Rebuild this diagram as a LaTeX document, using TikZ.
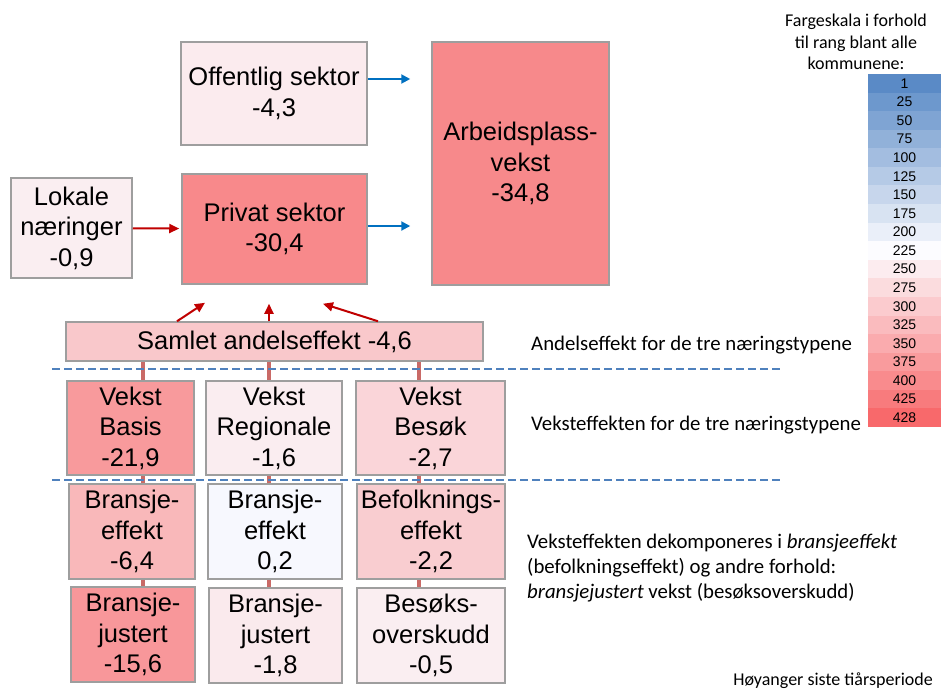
\documentclass[tikz,border=0pt]{standalone}
\usepackage{fontspec}
\setmainfont{Liberation Sans}
\newfontfamily\calibri{Carlito}
\usepackage{xcolor}
\usetikzlibrary{arrows.meta, positioning, backgrounds}

\definecolor{boxline}{HTML}{9E9E9E}
\definecolor{linkred}{HTML}{C0504D}
\definecolor{arrowred}{HTML}{C00000}
\definecolor{arrowblue}{HTML}{0070C0}
\definecolor{dashblue}{HTML}{4F81BD}
\definecolor{scaleblue}{HTML}{5A8AC6}
\definecolor{scalewhite}{HTML}{FCFCFF}
\definecolor{scalered}{HTML}{F8696B}
\definecolor{cOff}{HTML}{FBEBEE}
\definecolor{cPriv}{HTML}{F8898B}
\definecolor{cArb}{HTML}{F7898B}
\definecolor{cLok}{HTML}{FAEEF1}
\definecolor{cSaml}{HTML}{F9C8CB}
\definecolor{cBas}{HTML}{F89A9C}
\definecolor{cReg}{HTML}{FAEDF0}
\definecolor{cBes}{HTML}{FAD5D9}
\definecolor{cEffBas}{HTML}{F9B8BA}
\definecolor{cEffReg}{HTML}{F7F8FE}
\definecolor{cEffBes}{HTML}{F9CDD0}
\definecolor{cJusBas}{HTML}{F8979A}
\definecolor{cJusReg}{HTML}{FAEAED}
\definecolor{cJusBes}{HTML}{FAEEF1}

\begin{document}
\begin{tikzpicture}[x=1pt, y=-1pt,
    box/.style={rectangle, draw=boxline, line width=1.5pt, inner sep=0pt, align=center,
        font=\fontsize{25.5}{30.5}\selectfont},
    link/.style={draw=linkred, line width=3.5pt, opacity=0.85},
    redarrow/.style={draw=arrowred, line width=2pt, -{Triangle[length=10pt, width=9pt]}},
    bluearrow/.style={draw=arrowblue, line width=2pt, -{Triangle[length=9pt, width=9pt]}},
    dashline/.style={draw=dashblue, line width=2.5pt, dash pattern=on 8pt off 4pt},
    note/.style={font=\calibri\fontsize{20.8}{25}\selectfont, inner sep=0pt, align=left}]

    \useasboundingbox (0,0) rectangle (941,689);

    % Top row: sectors and total
    \node[box, fill=cOff, minimum width=186pt, minimum height=103pt] (offentlig) at (274,93.5)
        {Offentlig sektor\\-4,3};
    \node[box, fill=cPriv, minimum width=185pt, minimum height=110pt] (privat) at (274.5,229)
        {Privat sektor\\-30,4};
    \node[box, fill=cLok, minimum width=121pt, minimum height=100pt] (lokale) at (71.5,228)
        {Lokale\\næringer\\-0,9};
    \node[box, fill=cArb, minimum width=177pt, minimum height=243pt] (arbeid) at (520.5,163.5)
        {Arbeidsplass-\\vekst\\-34,8};

    % Share effect
    \node[box, fill=cSaml, minimum width=417pt, minimum height=39pt] (samlet) at (274.5,341.5)
        {Samlet andelseffekt -4,6};

    % Growth per industry type
    \node[box, fill=cBas, minimum width=127pt, minimum height=94pt] (vbasis) at (130.5,428)
        {Vekst\\Basis\\-21,9};
    \node[box, fill=cReg, minimum width=136pt, minimum height=94pt] (vreg) at (274,428)
        {Vekst\\Regionale\\-1,6};
    \node[box, fill=cBes, minimum width=149pt, minimum height=94pt] (vbes) at (430.5,428)
        {Vekst\\Besøk\\-2,7};

    % Industry / population effect
    \node[box, fill=cEffBas, minimum width=126pt, minimum height=95pt] (ebasis) at (132,531.5)
        {Bransje-\\effekt\\-6,4};
    \node[box, fill=cEffReg, minimum width=134pt, minimum height=95pt] (ereg) at (275,531.5)
        {Bransje-\\effekt\\0,2};
    \node[box, fill=cEffBes, minimum width=148pt, minimum height=95pt] (ebes) at (431,531.5)
        {Befolknings-\\effekt\\-2,2};

    % Adjusted growth
    \node[box, fill=cJusBas, minimum width=124pt, minimum height=95pt] (jbasis) at (133,634.5)
        {Bransje-\\justert\\-15,6};
    \node[box, fill=cJusReg, minimum width=133pt, minimum height=95pt] (jreg) at (275.5,635.5)
        {Bransje-\\justert\\-1,8};
    \node[box, fill=cJusBes, minimum width=148pt, minimum height=95pt] (jbes) at (431,635.5)
        {Besøks-\\overskudd\\-0,5};

    % Column lines behind the boxes
    \coordinate (colA) at (143,0);
    \coordinate (colB) at (269,0);
    \coordinate (colC) at (419,0);
    \begin{scope}[on background layer]
        \fill[white] (0,0) rectangle (941,689);
        \draw[link] (samlet.south -| colA) -- (jbasis.north -| colA);
        \draw[link] (samlet.south -| colB) -- (jreg.north -| colB);
        \draw[link] (samlet.south -| colC) -- (jbes.north -| colC);
    \end{scope}

    % Dashed separators
    \draw[dashline] (52,369) -- (783,369);
    \draw[dashline] (52,480) -- (780,480);

    % Arrows
    \draw[bluearrow, shorten >=21pt, transform canvas={yshift=14.5pt}] (offentlig.east) -- (offentlig.east -| arbeid.west);
    \draw[bluearrow, shorten >=21pt, transform canvas={yshift=3pt}] (privat.east) -- (privat.east -| arbeid.west);
    \draw[redarrow, shorten >=2pt] (lokale) -- (privat);
    \draw[redarrow] ([xshift=-97.5pt]samlet.north) -- ([xshift=-69.5pt, yshift=-18pt]privat.south);
    \draw[redarrow] ([xshift=-5.5pt]samlet.north) -- ([xshift=-5.5pt, yshift=-19pt]privat.south);
    \draw[redarrow] ([xshift=103.5pt]samlet.north) -- ([xshift=48.5pt, yshift=-19pt]privat.south);

    % Explanations
    \node[note, anchor=west] (txtandel) at (531,345) {Andelseffekt for de tre næringstypene};
    \node[note, anchor=west] (txtvekst) at (531,425) {Veksteffekten for de tre næringstypene};
    \node[note, anchor=west] (txtdekomp) at (527,568)
        {Veksteffekten dekomponeres i \textit{bransjeeffekt}\\(befolkningseffekt) og andre forhold:\\\textit{bransjejustert} vekst (besøksoverskudd)};
    \node[note, anchor=east, font=\calibri\fontsize{18}{21}\selectfont] (txtsted) at (933,681) {Høyanger siste tiårsperiode};

    % Colour scale
    \node[note, align=center, font=\calibri\fontsize{18}{21.5}\selectfont] (scaletitle) at (856,42)
        {Fargeskala i forhold\\til rang blant alle\\kommunene:};
    \foreach \v [count=\i from 0] in {1,25,50,75,100,125,150,175,200,225,250,275,300,325,350,375,400,425,428} {
        \pgfmathtruncatemacro{\pb}{max(0,(9-\i)*100/9)}
        \pgfmathtruncatemacro{\pr}{max(0,(\i-9)*100/9)}
        \ifnum\i<9 \def\cellcol{scaleblue!\pb!scalewhite}\else\def\cellcol{scalered!\pr!scalewhite}\fi
        \node[fill=\cellcol, minimum width=73pt, minimum height=18.6pt, inner sep=0pt,
            font=\fontsize{14}{15}\selectfont] (scale\i) at (904.5,{83.3+18.58*\i}) {\v};
    }

\end{tikzpicture}
\end{document}
